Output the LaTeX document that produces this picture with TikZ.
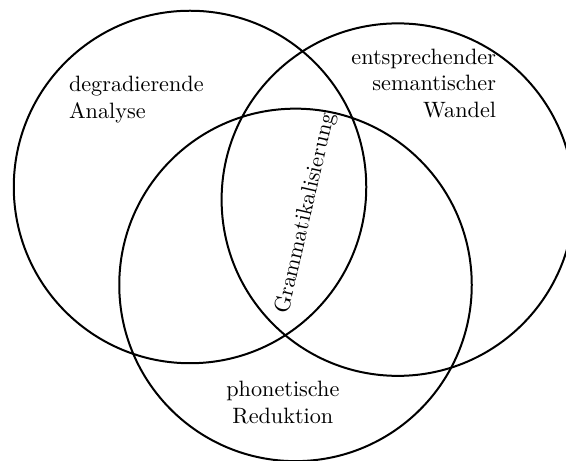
\documentclass[tikz,border=0pt]{standalone}
\usepackage{tikz}
\usetikzlibrary{positioning}

\begin{document}
\begin{tikzpicture}[circ/.style={line width=0.9pt}]
        \def\r{2.79}
        \useasboundingbox (-3.008,-4.322) rectangle (5.952,2.96);
        \coordinate (c1) at (0,0);
        \coordinate (c2) at (3.29,-0.2);
        \coordinate (c3) at (1.67,-1.55);
        %Circles
        \draw[circ] (c1) circle (\r);
        \draw[circ] (c2) circle (\r);
        \draw[circ] (c3) circle (\r);
        %Labels
        \node[align=left] (analyse) at (-0.85,1.38) {degradierende\\Analyse};
        \node[align=right] (wandel) at (3.70,1.64) {entsprechender\\semantischer\\Wandel};
        \node[align=center] (reduktion) at (1.47,-3.41) {phonetische\\Reduktion};
        \node[rotate=77] (gram) at (1.83,-0.42) {Grammatikalisierung};
      \end{tikzpicture}
\end{document}
